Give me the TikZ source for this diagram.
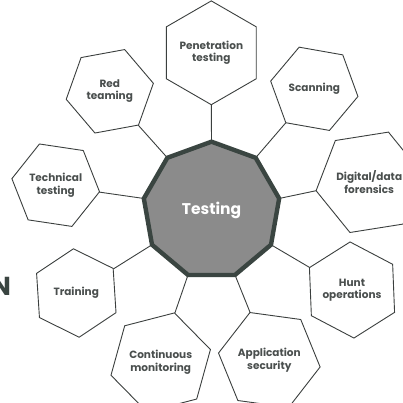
\documentclass[tikz,border=0pt]{standalone}
\usepackage{fontspec}
\setmainfont{Poppins}
\usetikzlibrary{shapes.geometric}
\pgfdeclarelayer{bg}
\pgfsetlayers{bg,main}
\definecolor{hexline}{HTML}{3B3F3E}
\definecolor{labelc}{HTML}{4A4F4E}
\definecolor{hubfill}{HTML}{8B8B8B}
\definecolor{hubline}{HTML}{3A4541}
\begin{document}
\begin{tikzpicture}[x=1pt,y=1pt,
  sat/.style={regular polygon, regular polygon sides=6, minimum size=88.6pt,
    inner sep=0pt, outer sep=0pt, draw=hexline, line width=0.9pt, fill=white,
    text=labelc, font=\fontsize{10.5}{12.5}\selectfont\bfseries, align=center},
  hub/.style={regular polygon, regular polygon sides=9, minimum size=137.4pt,
    inner sep=0pt, outer sep=0pt, draw=hubline, line width=4.4pt, fill=hubfill,
    text=white, font=\fontsize{15.5}{18}\selectfont\bfseries},
  link/.style={draw=hexline, line width=0.9pt}]
\useasboundingbox (0,0) rectangle (403,402);
\node[anchor=base east, font=\fontsize{26}{26}\selectfont\bfseries, text=hubline] (nn) at (14.5,107) {N};
\node[hub] (hub) at (211.5,191.6) {Testing};
\node[sat, shape border rotate=30]   (pen)   at (211.3,349.2) {Penetration\\testing};
\node[sat, shape border rotate=50]   (scan)  at (314.3,313.2) {Scanning};
\node[sat, shape border rotate=9]    (foren) at (369.2,219.7) {Digital/data\\forensics};
\node[sat, shape border rotate=32.3] (hunt)  at (352,112)     {Hunt\\operations};
\node[sat, shape border rotate=52.2] (app)   at (269.3,42)    {Application\\security};
\node[sat, shape border rotate=14.5] (cont)  at (160.7,39.6)  {Continuous\\monitoring};
\node[sat, shape border rotate=33.7] (train) at (76.3,109)    {Training};
\node[sat, shape border rotate=51.5] (tech)  at (55.7,216.8)  {Technical\\testing};
\node[sat, shape border rotate=10.4] (red)   at (109.8,310.7) {Red\\teaming};
\begin{pgfonlayer}{bg}
\draw[link] (hub.90)   -- (pen.270);
\draw[link] (hub.50)   -- (scan.230);
\draw[link] (hub.10)   -- (foren.189);
\draw[link] (hub.330)  -- (hunt.152.3);
\draw[link] (hub.290)  -- (app.112.2);
\draw[link] (hub.250)  -- (cont.74.5);
\draw[link] (hub.210)  -- (train.33.7);
\draw[link] (hub.170)  -- (tech.351.5);
\draw[link] (hub.130)  -- (red.310.4);
\end{pgfonlayer}
\end{tikzpicture}
\end{document}
